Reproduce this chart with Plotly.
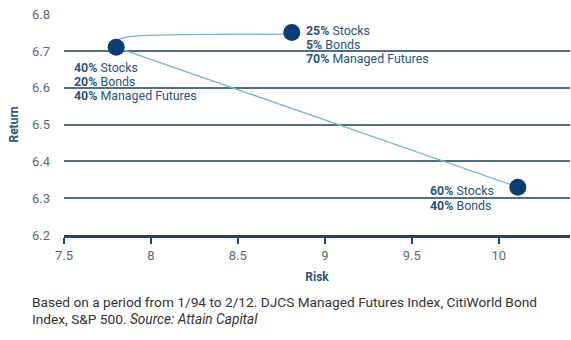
import plotly.graph_objects as go

# Data
risk = [8.81, 7.80, 10.11]
ret = [6.75, 6.71, 6.33]
labels = [
    [("25%", "Stocks"), ("5%", "Bonds"), ("70%", "Managed Futures")],
    [("40%", "Stocks"), ("20%", "Bonds"), ("40%", "Managed Futures")],
    [("60%", "Stocks"), ("40%", "Bonds")],
]
xticks = [7.5, 8, 8.5, 9, 9.5, 10]
xticklabels = ["7.5", "8", "8.5", "9", "9.5", "10"]
yticks = [6.2, 6.3, 6.4, 6.5, 6.6, 6.7, 6.8]
yticklabels = ["6.2", "6.3", "6.4", "6.5", "6.6", "6.7", "6.8"]

NAVY = "#0b3d74"
TXT = "#2a5581"
GRID = "#4f6f88"
LINE = "#74b6d6"
FONT = "Roboto"

fig = go.Figure()

# curved connector from the 25/5/70 portfolio to the 40/20/40 portfolio (bezier in data coords)
x2, y2 = risk[0], ret[0]
x1, y1 = risk[1], ret[1]
path = (f"M {x2},{y2 - 0.004} C {x1 + 0.15},{y2 - 0.004} "
        f"{x1 - 0.05},{y2 - 0.002} {x1},{y1}")
fig.add_shape(type="path", path=path, xref="x", yref="y",
              line=dict(color=LINE, width=1.3), layer="below")

# straight line from 40/20/40 to 60/40
fig.add_trace(go.Scatter(
    x=risk[1:], y=ret[1:], mode="lines",
    line=dict(color=LINE, width=1.3),
    hoverinfo="skip", showlegend=False))
fig.add_trace(go.Scatter(
    x=risk, y=ret, mode="markers",
    marker=dict(color=NAVY, size=17, line=dict(width=0)),
    showlegend=False))

offsets = [
    dict(xs=12, ys=[2, -12, -26]),
    dict(xs=-44, ys=[-20, -34, -48]),
    dict(xs=-90, ys=[-3, -18]),
]
for i, lab in enumerate(labels):
    for j, (pct, name) in enumerate(lab):
        fig.add_annotation(
            x=risk[i], y=ret[i], xref="x", yref="y",
            text=f"<b>{pct}</b> {name}", showarrow=False,
            xanchor="left", yanchor="middle",
            xshift=offsets[i]["xs"], yshift=offsets[i]["ys"][j],
            font=dict(family=FONT, size=12.4, color=TXT))

cap_x = (30 - 64) / 506
fig.add_annotation(
    xref="paper", yref="paper", x=cap_x, y=-(302 - 235) / 221,
    xanchor="left", yanchor="middle", showarrow=False, align="left",
    text="Based on a period from 1/94 to 2/12. DJCS Managed Futures Index, CitiWorld Bond",
    font=dict(family=FONT, size=13.7, color="#333333"))
fig.add_annotation(
    xref="paper", yref="paper", x=cap_x, y=-(319 - 235) / 221,
    xanchor="left", yanchor="middle", showarrow=False, align="left",
    text="Index, S&P 500. <i>Source: Attain Capital</i>",
    font=dict(family=FONT, size=13.7, color="#333333"))

fig.update_layout(
    width=571, height=340,
    margin=dict(l=64, r=1, t=14, b=105),
    paper_bgcolor="white", plot_bgcolor="white",
    font=dict(family=FONT),
    xaxis=dict(
        range=[7.5, 10.41], tickvals=xticks, ticktext=xticklabels,
        showgrid=False, zeroline=False,
        showline=True, linecolor="#1d4472", linewidth=3,
        ticks="outside", ticklen=6, tickwidth=2, tickcolor="#1d4472",
        tickfont=dict(family=FONT, size=13, color="#5b6b78"),
        title=dict(text="<b>Risk</b>", font=dict(family=FONT, size=12, color=TXT), standoff=12),
    ),
    yaxis=dict(
        range=[6.2, 6.8005], tickvals=yticks, ticktext=yticklabels,
        showgrid=True, gridcolor=GRID, gridwidth=2, zeroline=False,
        ticks="", ticklabelstandoff=13,
        tickfont=dict(family=FONT, size=13, color="#5b6b78"),
        title=dict(text="<b>Return</b>", font=dict(family=FONT, size=12, color=TXT), standoff=10),
    ),
)

fig.write_html("out.html")
